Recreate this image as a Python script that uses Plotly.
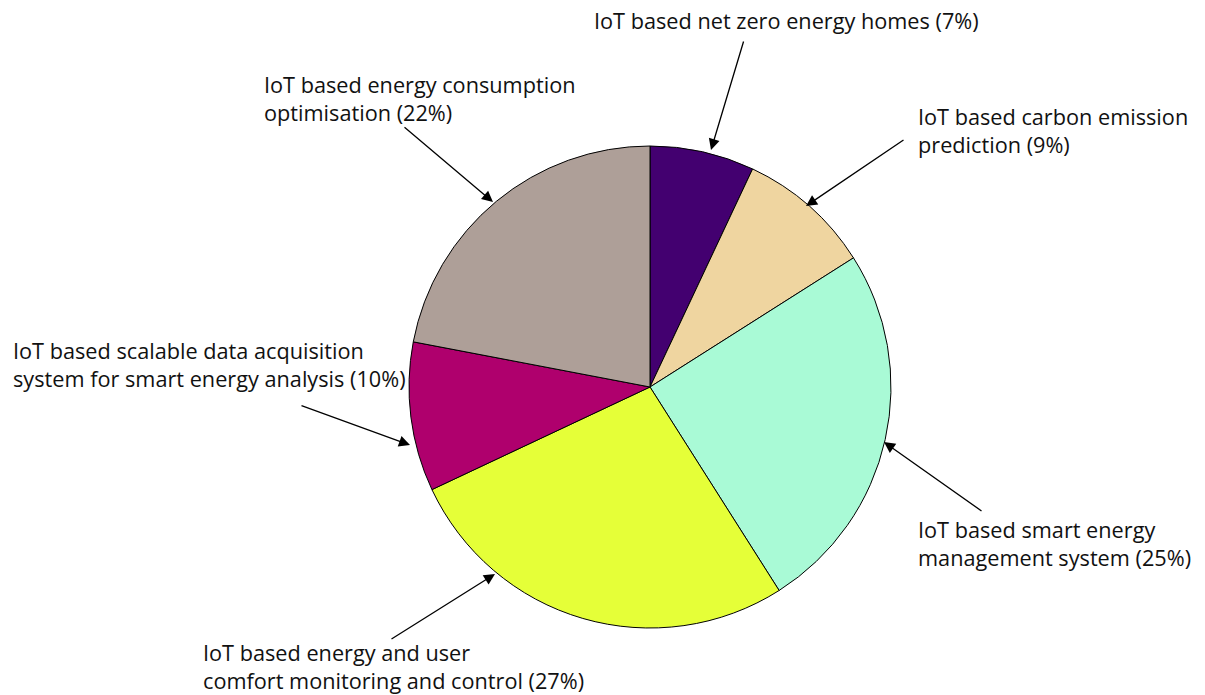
import plotly.graph_objects as go

W, H = 1205, 695

labels = [
    "IoT based net zero energy homes",
    "IoT based carbon emission prediction",
    "IoT based smart energy management system",
    "IoT based energy and user comfort monitoring and control",
    "IoT based scalable data acquisition system for smart energy analysis",
    "IoT based energy consumption optimisation",
]
values = [7, 9, 25, 27, 10, 22]
colors = ["#430070", "#EFD5A0", "#A9FAD6", "#E5FF38", "#AF006D", "#AE9F98"]

label_texts = [
    "IoT based net zero energy homes (7%)",
    "IoT based carbon emission<br>prediction (9%)",
    "IoT based smart energy<br>management system (25%)",
    "IoT based energy and user<br>comfort monitoring and control (27%)",
    "IoT based scalable data acquisition<br>system for smart energy analysis (10%)",
    "IoT based energy consumption<br>optimisation (22%)",
]
# text box positions (left, vertical center) in pixels
text_pos = [(592, 20), (916, 131), (916, 543), (201, 666), (11, 365), (262, 99)]
# arrows: tail (x,y) -> head (x,y) in pixels
arrows = [
    ((744, 40), (711, 150)),
    ((905, 139), (806, 206)),
    ((983, 512), (884, 442)),
    ((390, 640), (495, 574)),
    ((300, 405), (410, 445)),
    ((403, 126), (493, 202)),
]

cx, cy, r = 650, 387, 241

fig = go.Figure(go.Pie(
    labels=labels, values=values, sort=False, direction="clockwise", rotation=0,
    marker=dict(colors=colors, line=dict(color="black", width=1)),
    textinfo="none", hoverinfo="label+percent",
    domain=dict(x=[(cx - r) / W, (cx + r) / W], y=[1 - (cy + r) / H, 1 - (cy - r) / H]),
))

def px(x):
    return x / W

def py(y):
    return 1 - y / H

ann = []
for t, (lx, ly) in zip(label_texts, text_pos):
    ann.append(dict(text=t, x=px(lx), y=py(ly), xref="paper", yref="paper",
                    xanchor="left", yanchor="middle", align="left", showarrow=False,
                    font=dict(family="Open Sans", size=21.7, color="#111111")))
for (tx, ty), (hx, hy) in arrows:
    ann.append(dict(text="", x=px(hx), y=py(hy), xref="paper", yref="paper",
                    ax=tx - hx, ay=ty - hy, showarrow=True, arrowhead=2,
                    arrowsize=1.7, arrowwidth=1.3, arrowcolor="black"))

fig.update_layout(
    width=W, height=H, margin=dict(l=0, r=0, t=0, b=0),
    paper_bgcolor="white", plot_bgcolor="white", showlegend=False,
    annotations=ann,
)

fig.write_html("out.html")
